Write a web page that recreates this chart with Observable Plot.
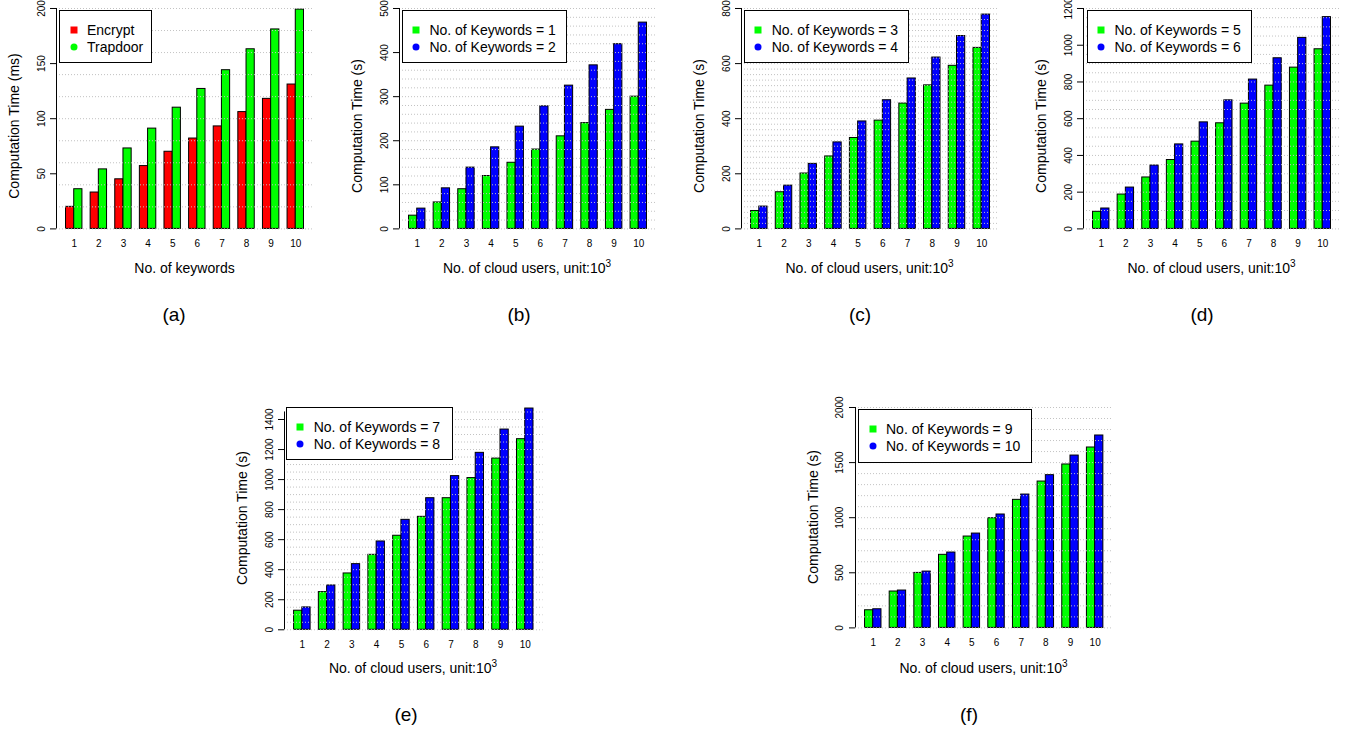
<!DOCTYPE html>
<html><head><meta charset="utf-8">
<script src="https://cdn.jsdelivr.net/npm/d3@7"></script>
<script src="https://cdn.jsdelivr.net/npm/@observablehq/plot@0.6"></script>
<style>
html,body{margin:0;padding:0;background:#fff;}
#root{position:relative;width:1346px;height:734px;overflow:hidden;font-family:"Liberation Sans",Arial,Helvetica,sans-serif;color:#000;background:#fff;}
.t{position:absolute;font-size:14px;white-space:nowrap;transform:translate(-50%,-50%);line-height:1;}
.yt{position:absolute;font-size:14px;white-space:nowrap;transform:translate(-50%,-50%) rotate(-90deg);line-height:1;}
.cap{position:absolute;font-size:19px;white-space:nowrap;transform:translate(-50%,-50%);line-height:1;}
.leg{position:absolute;border:1px solid #000;background:#fff;box-sizing:border-box;}
.row{position:absolute;left:0;font-size:14px;white-space:nowrap;line-height:1;transform:translateY(-50%);}
.mk{position:absolute;width:7px;height:7px;transform:translate(-50%,-50%);}
sup{font-size:10px;vertical-align:6px;line-height:0;}
svg{position:absolute;}
</style></head><body><div id="root"></div>
<script>
// ---- data ----
const users = ["1","2","3","4","5","6","7","8","9","10"];
const encrypt  = [20, 33, 45, 57, 70, 82, 93, 106, 118, 131];
const trapdoor = [36, 54, 73, 91, 110, 127, 144, 163, 181, 199];
const kw1  = [30, 60, 90, 120, 150, 180, 210, 240, 270, 300];
const kw2  = [46, 92, 139, 185, 232, 278, 325, 371, 419, 468];
const kw3  = [65, 133, 201, 263, 330, 393, 455, 521, 592, 657];
const kw4  = [81, 157, 236, 314, 390, 467, 546, 622, 700, 778];
const kw5  = [93, 187, 280, 375, 475, 575, 682, 780, 878, 978];
const kw6  = [111, 225, 345, 460, 580, 700, 813, 929, 1040, 1153];
const kw7  = [127, 251, 375, 499, 626, 752, 876, 1010, 1140, 1269];
const kw8  = [149, 295, 437, 588, 732, 876, 1023, 1178, 1333, 1473];
const kw9  = [160, 330, 499, 663, 829, 995, 1162, 1328, 1483, 1637];
const kw10 = [169, 339, 511, 684, 856, 1029, 1210, 1386, 1564, 1746];
const ticksA = [0, 50, 100, 150, 200];
const ticksB = [0, 100, 200, 300, 400, 500];
const ticksC = [0, 200, 400, 600, 800];
const ticksD = [0, 200, 400, 600, 800, 1000, 1200];
const ticksE = [0, 200, 400, 600, 800, 1000, 1200, 1400];
const ticksF = [0, 500, 1000, 1500, 2000];
const seriesA = ["Encrypt", "Trapdoor"];
const seriesB = ["No. of Keywords = 1", "No. of Keywords = 2"];
const seriesC = ["No. of Keywords = 3", "No. of Keywords = 4"];
const seriesD = ["No. of Keywords = 5", "No. of Keywords = 6"];
const seriesE = ["No. of Keywords = 7", "No. of Keywords = 8"];
const seriesF = ["No. of Keywords = 9", "No. of Keywords = 10"];
const xTitleKw = "No. of keywords";
const xTitleUsers = 'No. of cloud users, unit:10<sup>3</sup>';

// ---- layout ----
const RG = ["#ff0000", "#00ff00"], GB = ["#00ff00", "#0000ff"];
const panels = [
  {L:56, R:313, y0:228.7, yT:8.3, top:200, axisTop:200, grid:20, ticks:ticksA, series:seriesA, values:[encrypt,trapdoor], colors:RG, xt:xTitleKw, yt:"Computation Time (ms)", cap:"(a)", capX:174, capY:314, xtY:268, ytY:126, leg:[59.3,10,92.4,53.3]},
  {L:398.5, R:655.5, y0:228.7, yT:8.3, top:500, axisTop:500, grid:20, ticks:ticksB, series:seriesB, values:[kw1,kw2], colors:GB, xt:xTitleUsers, yt:"Computation Time (s)", cap:"(b)", capX:519, capY:314, xtY:268, ytY:126, leg:[401.7,10,165.6,53.3]},
  {L:740.5, R:998.5, y0:228.7, yT:8.3, top:800, axisTop:800, grid:20, ticks:ticksC, series:seriesC, values:[kw3,kw4], colors:GB, xt:xTitleUsers, yt:"Computation Time (s)", cap:"(c)", capX:860, capY:314, xtY:268, ytY:126, leg:[744,10,165.3,53.3]},
  {L:1083, R:1340, y0:228.7, yT:8.3, top:1200, axisTop:1200, grid:50, ticks:ticksD, series:seriesD, values:[kw5,kw6], colors:GB, xt:xTitleUsers, yt:"Computation Time (s)", cap:"(d)", capX:1202, capY:314, xtY:268, ytY:126, leg:[1086.7,10,165,53.3]},
  {L:283.7, R:542.3, y0:629.3, yT:419, top:1400, axisTop:1450, grid:50, ticks:ticksE, series:seriesE, values:[kw7,kw8], colors:GB, xt:xTitleUsers, yt:"Computation Time (s)", cap:"(e)", capX:406, capY:714, xtY:667.5, ytY:518, leg:[286,406.7,166.7,53.3]},
  {L:854.8, R:1112.2, y0:627.7, yT:407.3, top:2000, axisTop:2000, grid:100, ticks:ticksF, series:seriesF, values:[kw9,kw10], colors:GB, xt:xTitleUsers, yt:"Computation Time (s)", cap:"(f)", capX:969, capY:714, xtY:667.5, ytY:517, leg:[858.3,409.3,173.3,53.3]}
];

const root = document.getElementById("root");
const FONT = '"Liberation Sans", Arial, Helvetica, sans-serif';
const mL = 60, mR = 12, mT = 20, mB = 32;

function el(cls, x, y, html) {
  const d = document.createElement("div");
  d.className = cls; d.style.left = x + "px"; d.style.top = y + "px"; d.innerHTML = html;
  root.appendChild(d); return d;
}

for (const p of panels) {
  const W = mL + (p.R - p.L) + mR, H = mT + (p.y0 - p.yT) + mB;
  const rows = [];
  p.values.forEach((arr, j) => arr.forEach((v, i) => rows.push({k: users[i], s: p.series[j], v})));
  const common = {width: W, height: H, marginLeft: mL, marginRight: mR, marginTop: mT, marginBottom: mB,
    style: {fontFamily: FONT, fontSize: "10px", background: "transparent", overflow: "visible", color: "#000"}};
  const bars = Plot.plot({...common,
    fx: {domain: users, paddingInner: 1/3, paddingOuter: 0.3867, round: false, axis: "bottom", tickSize: 0, tickPadding: 11, label: null},
    x: {domain: p.series, padding: 0, round: false, axis: null},
    y: {domain: [0, p.top], axis: null},
    color: {domain: p.series, range: p.colors},
    marks: [Plot.barY(rows, {fx: "k", x: "s", y: "v", fill: "s", stroke: "#000", strokeWidth: 1, inset: 0})]
  });
  const over = Plot.plot({...common,
    x: {domain: [0, 1], axis: null},
    y: {domain: [0, p.top], axis: null},
    marks: [
      Plot.ruleY(d3.range(0, p.axisTop + 0.001, p.grid), {stroke: "#c2c2c2", strokeDasharray: "1,2"}),
      Plot.ruleX([0], {y1: 0, y2: p.axisTop, stroke: "#000"}),
      Plot.axisY(p.ticks, {anchor: "left", tickSize: 6, tickPadding: 6, tickRotate: -90, tickFormat: d => String(d), label: null})
    ]
  });
  for (const s of [bars, over]) {
    s.style.left = (p.L - mL) + "px"; s.style.top = (p.yT - mT) + "px";
    root.appendChild(s);
  }
  // legend
  const [lx, ly, lw, lh] = p.leg;
  const lg = document.createElement("div");
  lg.className = "leg";
  Object.assign(lg.style, {left: lx + "px", top: ly + "px", width: lw + "px", height: lh + "px"});
  p.series.forEach((name, j) => {
    const cy = j === 0 ? 19 : 36;
    const mk = document.createElement("div");
    mk.className = "mk";
    Object.assign(mk.style, {left: "13.4px", top: cy + "px", background: p.colors[j], borderRadius: j === 0 ? "0" : "50%"});
    lg.appendChild(mk);
    const tx = document.createElement("div");
    tx.className = "row"; tx.textContent = name;
    Object.assign(tx.style, {left: "26.7px", top: cy + "px"});
    lg.appendChild(tx);
  });
  root.appendChild(lg);
  // titles
  el("t", (p.L + p.R) / 2, p.xtY, p.xt);
  el("yt", p.L - 42, p.ytY, p.yt);
  el("cap", p.capX, p.capY, p.cap);
}
</script></body></html>
